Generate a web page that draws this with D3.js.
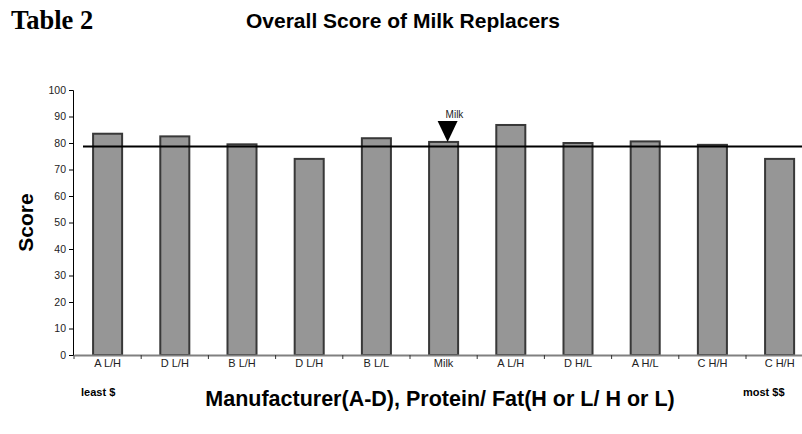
<!DOCTYPE html>
<html>
<head>
<meta charset="utf-8">
<script src="https://cdn.jsdelivr.net/npm/d3@7"></script>
<style>
  html, body { margin: 0; padding: 0; background: #fff; }
  svg { display: block; }
  text { font-family: "Liberation Sans", Arial, sans-serif; }
</style>
</head>
<body>
<svg id="chart" width="802" height="434"></svg>
<script>
// ---- data ----
const categories = ["A L/H", "D L/H", "B L/H", "D L/H", "B L/L", "Milk", "A L/H", "D H/L", "A H/L", "C H/H", "C H/H"];
const scores = [83.5, 82.5, 79.5, 74.0, 81.8, 80.4, 86.8, 80.0, 80.6, 79.3, 74.0];
const referenceScore = 78.7;
const yTicks = [0, 10, 20, 30, 40, 50, 60, 70, 80, 90, 100];
const markerIndex = 5;
const markerLabel = "Milk";

const svg = d3.select("#chart");

const y = d3.scaleLinear().domain([0, 100]).range([355, 90]);
const x = d3.scaleBand().domain(d3.range(categories.length))
  .range([74, 74 + 67.2 * categories.length])
  .paddingInner(0.568).paddingOuter(0.284);

// titles
svg.append("text").attr("x", 11).attr("y", 29)
  .style("font-family", "'Liberation Serif', 'Times New Roman', serif")
  .style("font-weight", "bold").style("font-size", "26.5px").attr("fill", "#000")
  .text("Table 2");
svg.append("text").attr("x", 403).attr("y", 28).attr("text-anchor", "middle")
  .style("font-weight", "bold").style("font-size", "21px").attr("fill", "#000")
  .text("Overall Score of Milk Replacers");

// bars
svg.append("g").selectAll("rect").data(scores).join("rect")
  .attr("x", (d, i) => x(i))
  .attr("y", d => y(d))
  .attr("width", x.bandwidth())
  .attr("height", d => y(0) - y(d))
  .attr("fill", "#969696")
  .attr("stroke", "#383838")
  .attr("stroke-width", 2);

// y axis
const yAxis = svg.append("g").attr("transform", "translate(73,0)")
  .call(d3.axisLeft(y).tickValues(yTicks).tickSize(4).tickPadding(3));
yAxis.select(".domain").attr("stroke", "#000");
yAxis.selectAll(".tick line").attr("stroke", "#000");
yAxis.selectAll(".tick text").style("font-size", "10.5px").attr("fill", "#222");

// x axis
const xAxis = svg.append("g").attr("transform", "translate(0,355)")
  .call(d3.axisBottom(x).tickFormat(i => categories[i]).tickSize(0).tickPadding(4));
xAxis.select(".domain").attr("stroke", "#808080").attr("stroke-width", 2);
xAxis.selectAll(".tick text").style("font-size", "11px").attr("fill", "#222");
const boundaries = d3.range(categories.length + 1).map(i => x.range()[0] + i * x.step());
svg.append("g").selectAll("line").data(boundaries).join("line")
  .attr("x1", d => d).attr("x2", d => d)
  .attr("y1", 355).attr("y2", 359)
  .attr("stroke", "#333").attr("stroke-width", 1);

// reference line
svg.append("line")
  .attr("x1", 83).attr("x2", 813)
  .attr("y1", y(referenceScore)).attr("y2", y(referenceScore))
  .attr("stroke", "#000").attr("stroke-width", 2);

// marker for milk
const mx = x(markerIndex) + x.bandwidth() / 2 + 4;
const my = y(scores[markerIndex]);
svg.append("path")
  .attr("d", `M${mx - 10},${my - 21}L${mx + 10},${my - 21}L${mx},${my}Z`)
  .attr("fill", "#000");
svg.append("text").attr("x", mx - 2).attr("y", my - 24)
  .style("font-size", "10px").attr("fill", "#222")
  .text(markerLabel);

// axis titles
svg.append("text")
  .attr("transform", `translate(33,${(y(0) + y(100)) / 2}) rotate(-90)`)
  .attr("text-anchor", "middle")
  .style("font-weight", "bold").style("font-size", "21px").attr("fill", "#000")
  .text("Score");
svg.append("text").attr("x", 440).attr("y", 406).attr("text-anchor", "middle")
  .style("font-weight", "bold").style("font-size", "21.5px").attr("fill", "#000")
  .text("Manufacturer(A-D), Protein/ Fat(H or L/ H or L)");
svg.append("text").attr("x", 81).attr("y", 396)
  .style("font-weight", "bold").style("font-size", "11px").attr("fill", "#000")
  .text("least $");
svg.append("text").attr("x", 743).attr("y", 396)
  .style("font-weight", "bold").style("font-size", "11px").attr("fill", "#000")
  .text("most $$");
</script>
</body>
</html>
